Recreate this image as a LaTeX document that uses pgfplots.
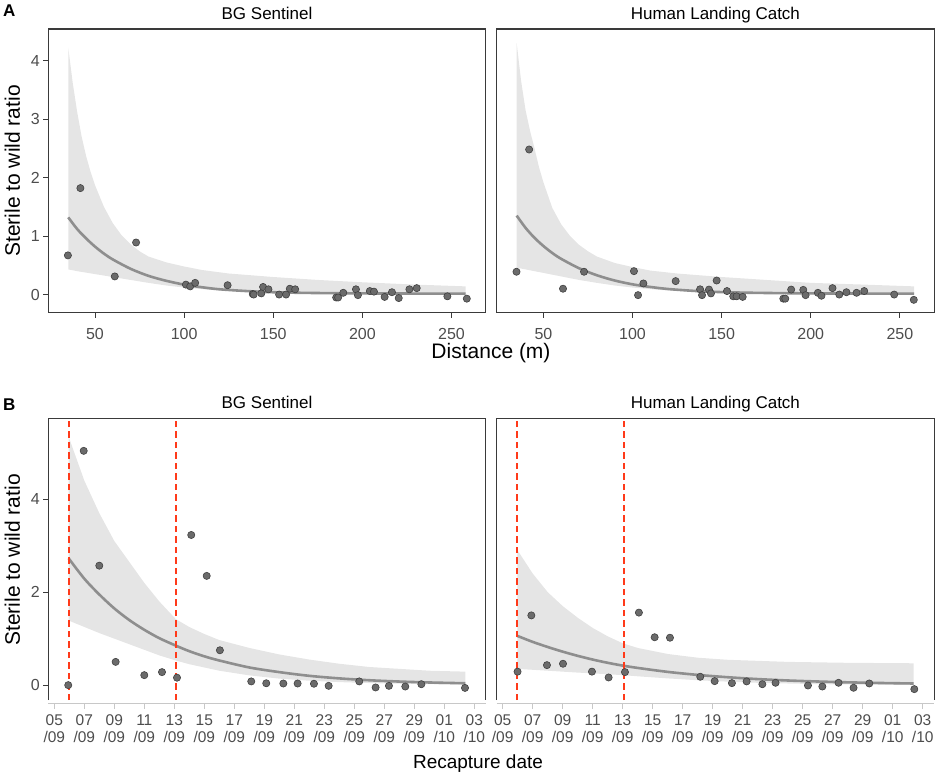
\documentclass[border=0pt]{standalone}
\usepackage{pgfplots}
\pgfplotsset{compat=1.18}
\usepackage{fontspec}
\setmainfont{Liberation Sans}
\definecolor{ribbon}{HTML}{E5E5E5}
\definecolor{fitline}{HTML}{8E8E8E}
\definecolor{ptfill}{HTML}{6B6B6B}
\definecolor{ptedge}{HTML}{404040}
\definecolor{frame}{HTML}{3A3A3A}
\definecolor{ticklab}{HTML}{4D4D4D}
\definecolor{vred}{HTML}{FF3A1A}
\definecolor{xline}{HTML}{C8C8C8}
\pgfplotsset{
  every axis title/.style={at={(0.5,1)}, anchor=base, yshift=9.7pt, inner sep=0pt,
      font=\fontsize{17}{20}\selectfont},
  panel/.style={scale only axis, width=437.4pt, anchor=south west,
    axis line style={draw=frame, line width=1.1pt},
    tick style={draw=frame, line width=1pt}, major tick length=5pt,
    tick align=outside, tick pos=left,
    /pgf/number format/assume math mode=true,
    ticklabel style={font=\fontsize{16}{19}\selectfont, text=ticklab},
  },
  pA/.style={panel, height=283.7pt, xmin=23.8, xmax=269.2, ymin=-0.31, ymax=4.54,
    xticklabel style={yshift=-7pt},
    xtick={50,100,150,200,250}, ytick={0,1,2,3,4}},
  pB/.style={panel, height=281.7pt, xmin=4.6, xmax=33.76, ymin=-0.32, ymax=5.74,
    clip=false, axis line style={draw=none},
    xtick={5,7,9,11,13,15,17,19,21,23,25,27,29,31,33},
    xticklabels={{05\\/09},{07\\/09},{09\\/09},{11\\/09},{13\\/09},{15\\/09},{17\\/09},{19\\/09},{21\\/09},{23\\/09},{25\\/09},{27\\/09},{29\\/09},{01\\/10},{03\\/10}},
    xticklabel style={align=center, font=\fontsize{15.5}{16.5}\selectfont, yshift=-6.5pt},
    xtick style={draw=xline, yshift=-3.7pt},
    ytick={0,2,4}},
  rib/.style={fill=ribbon, draw=none},
  fit/.style={draw=fitline, line width=2.6pt, smooth},
  pts/.style={only marks, mark=*, mark size=3.6pt, mark options={fill=ptfill, draw=ptedge, line width=0.6pt}},
  vl/.style={draw=vred, line width=1.8pt, dash pattern=on 6.5pt off 4pt},
}
\begin{document}
\begin{tikzpicture}
\useasboundingbox (0pt,0pt) rectangle (941pt,774pt);

% ---------------- Panel A, BG Sentinel
\begin{axis}[pA, at={(48.3pt,461.3pt)}, title={BG Sentinel}]
\addplot[rib] coordinates {(35,4.22) (37.5,3.62) (40,3.12) (42.5,2.70) (45,2.37) (47.5,2.10) (50,1.87) (55,1.50) (60,1.22) (65,1.01) (70,0.86) (75,0.74) (80,0.65) (90,0.55) (100,0.48) (110,0.42) (125,0.36) (150,0.30) (175,0.25) (200,0.21) (230,0.17) (258,0.14)
 (258,0.003) (230,0.006) (200,0.012) (175,0.02) (150,0.035) (130,0.055) (115,0.08) (100,0.12) (90,0.155) (80,0.20) (70,0.25) (60,0.30) (50,0.35) (40,0.40) (35,0.43)};
\addplot[fit] coordinates {(35,1.32) (40,1.12) (45,0.96) (50,0.82) (55,0.70) (60,0.60) (70,0.44) (80,0.32) (90,0.235) (100,0.17) (110,0.125) (120,0.09) (135,0.06) (150,0.04) (170,0.028) (200,0.02) (230,0.017) (258,0.015)};
\addplot[pts] coordinates {(34.8,0.67) (41.8,1.82) (61.1,0.31) (73.05,0.89) (101,0.17) (103.4,0.14) (106.2,0.20) (124.4,0.16) (138.5,0.01) (139,0.0) (143.3,0.02) (144.3,0.13) (147.3,0.09) (153.3,0.0) (157.2,0.0) (159.3,0.10) (162.3,0.09) (185.3,-0.05) (186.4,-0.05) (189.3,0.03) (196.4,0.09) (197.5,-0.01) (204.2,0.06) (206.5,0.05) (212.5,-0.04) (216.6,0.04) (220.4,-0.06) (226.4,0.09) (230.5,0.11) (247.7,-0.03) (258.6,-0.07)};
\end{axis}

% ---------------- Panel A, Human Landing Catch
\begin{axis}[pA, at={(496.7pt,461.3pt)}, title={Human Landing Catch}, ytick=\empty]
\addplot[rib] coordinates {(35,4.30) (37.5,3.65) (40,3.15) (42.5,2.80) (45,2.50) (47.5,2.18) (50,1.92) (55,1.48) (60,1.20) (65,1.00) (70,0.85) (75,0.74) (80,0.65) (90,0.54) (100,0.47) (110,0.41) (125,0.36) (150,0.30) (175,0.25) (200,0.20) (230,0.17) (258,0.14)
 (258,0.003) (230,0.006) (200,0.012) (175,0.02) (150,0.035) (130,0.055) (115,0.08) (100,0.12) (90,0.155) (80,0.20) (70,0.25) (60,0.31) (50,0.37) (40,0.43) (35,0.46)};
\addplot[fit] coordinates {(35,1.35) (40,1.14) (45,0.97) (50,0.83) (55,0.71) (60,0.61) (70,0.45) (80,0.33) (90,0.24) (100,0.175) (110,0.13) (120,0.095) (135,0.062) (150,0.042) (170,0.029) (200,0.02) (230,0.017) (258,0.015)};
\addplot[pts] coordinates {(34.9,0.39) (42,2.48) (61,0.10) (72.8,0.39) (100.8,0.40) (103.1,-0.01) (106.1,0.19) (124.2,0.23) (137.9,0.09) (139,-0.01) (142.9,0.085) (144,0.02) (147.2,0.24) (153,0.06) (156.5,-0.03) (158.4,-0.03) (161.8,-0.04) (184.6,-0.07) (185.7,-0.07) (189,0.085) (195.8,0.08) (197.1,-0.01) (204,0.03) (206,-0.02) (212.2,0.11) (216,0.0) (220,0.04) (225.7,0.03) (230,0.06) (246.8,0.0) (257.8,-0.09)};
\end{axis}

% ---------------- Panel B, BG Sentinel
\begin{axis}[pB, at={(48.3pt,74pt)}, title={BG Sentinel}]
\draw[frame, line width=1.1pt] (rel axis cs:0,0) -- (rel axis cs:0,1) -- (rel axis cs:1,1) -- (rel axis cs:1,0);
\draw[xline, line width=1.1pt] ([yshift=-3.7pt]rel axis cs:0,0) -- ([yshift=-3.7pt]rel axis cs:1,0);
\addplot[rib] coordinates {(5.95,5.35) (7,4.4) (8,3.7) (9,3.1) (10,2.65) (11,2.2) (12,1.8) (13.1,1.42) (14,1.25) (15,1.10) (16,0.97) (18,0.80) (20,0.66) (22,0.55) (24,0.46) (26,0.39) (28,0.35) (30,0.31) (32.4,0.29)
 (32.4,0.012) (30,0.02) (28,0.03) (26,0.045) (24,0.065) (22,0.095) (20,0.14) (18,0.21) (16,0.31) (14,0.45) (13.1,0.53) (12,0.64) (10,0.88) (8,1.12) (5.95,1.39)};
\addplot[fit] coordinates {(5.95,2.73) (7,2.29) (8,1.95) (9,1.65) (10,1.40) (11,1.19) (12,1.01) (13.1,0.85) (14,0.73) (15,0.62) (16,0.53) (18,0.38) (20,0.28) (22,0.20) (24,0.145) (26,0.105) (28,0.077) (30,0.057) (32.4,0.04)};
\addplot[vl] coordinates {(5.98,-0.32) (5.98,5.74)};
\addplot[vl] coordinates {(13.1,-0.32) (13.1,5.74)};
\addplot[pts] coordinates {(5.93,0) (6.96,5.04) (8.0,2.57) (9.09,0.50) (11.0,0.215) (12.18,0.28) (13.18,0.16) (14.13,3.23) (15.16,2.35) (16.04,0.75) (18.13,0.08) (19.13,0.04) (20.27,0.035) (21.22,0.035) (22.31,0.03) (23.29,-0.015) (25.33,0.08) (26.42,-0.05) (27.31,-0.015) (28.4,-0.03) (29.47,0.02) (32.38,-0.06)};
\end{axis}

% ---------------- Panel B, Human Landing Catch
\begin{axis}[pB, at={(496.7pt,74pt)}, title={Human Landing Catch}, ytick=\empty]
\draw[frame, line width=1.1pt] (rel axis cs:0,0) -- (rel axis cs:0,1) -- (rel axis cs:1,1) -- (rel axis cs:1,0);
\draw[xline, line width=1.1pt] ([yshift=-3.7pt]rel axis cs:0,0) -- ([yshift=-3.7pt]rel axis cs:1,0);
\addplot[rib] coordinates {(5.97,2.91) (7,2.4) (8,2.0) (9,1.7) (10,1.45) (11,1.23) (12,1.05) (13,0.90) (14,0.80) (16,0.67) (18,0.59) (20,0.545) (24,0.50) (28,0.48) (32.4,0.47)
 (32.4,0.005) (30,0.009) (28,0.014) (26,0.022) (24,0.035) (22,0.05) (20,0.075) (18,0.105) (16,0.145) (14,0.19) (13,0.215) (12,0.235) (10,0.27) (8,0.31) (5.97,0.35)};
\addplot[fit] coordinates {(5.97,1.06) (7,0.93) (8,0.82) (9,0.72) (10,0.63) (11,0.55) (12,0.48) (13,0.42) (14,0.37) (16,0.285) (18,0.22) (20,0.17) (22,0.13) (24,0.10) (26,0.078) (28,0.06) (30,0.047) (32.4,0.035)};
\addplot[vl] coordinates {(5.95,-0.32) (5.95,5.74)};
\addplot[vl] coordinates {(13.1,-0.32) (13.1,5.74)};
\addplot[pts] coordinates {(5.99,0.29) (6.91,1.50) (7.95,0.43) (9.02,0.46) (10.95,0.29) (12.06,0.165) (13.15,0.28) (14.08,1.56) (15.13,1.03) (16.15,1.02) (18.17,0.18) (19.13,0.086) (20.28,0.043) (21.26,0.08) (22.31,0.02) (23.19,0.05) (25.35,-0.007) (26.31,-0.03) (27.39,0.05) (28.39,-0.057) (29.44,0.036) (32.44,-0.086)};
\end{axis}

% ---------------- labels
\node[anchor=base west, inner sep=0pt, font=\fontsize{17}{20}\selectfont\bfseries] at (3pt,757.3pt) {A};
\node[anchor=base west, inner sep=0pt, font=\fontsize{17}{20}\selectfont\bfseries] at (3pt,363.3pt) {B};
\node[anchor=base, rotate=90, inner sep=0pt, font=\fontsize{21}{24}\selectfont] at (20pt,603pt) {Sterile to wild ratio};
\node[anchor=base, rotate=90, inner sep=0pt, font=\fontsize{21}{24}\selectfont] at (20pt,214pt) {Sterile to wild ratio};
\node[anchor=base, inner sep=0pt, font=\fontsize{21}{24}\selectfont] at (491pt,415.7pt) {Distance (m)};
\node[anchor=base, inner sep=0pt, font=\fontsize{19}{22}\selectfont] at (478pt,5.7pt) {Recapture date};
\end{tikzpicture}
\end{document}
